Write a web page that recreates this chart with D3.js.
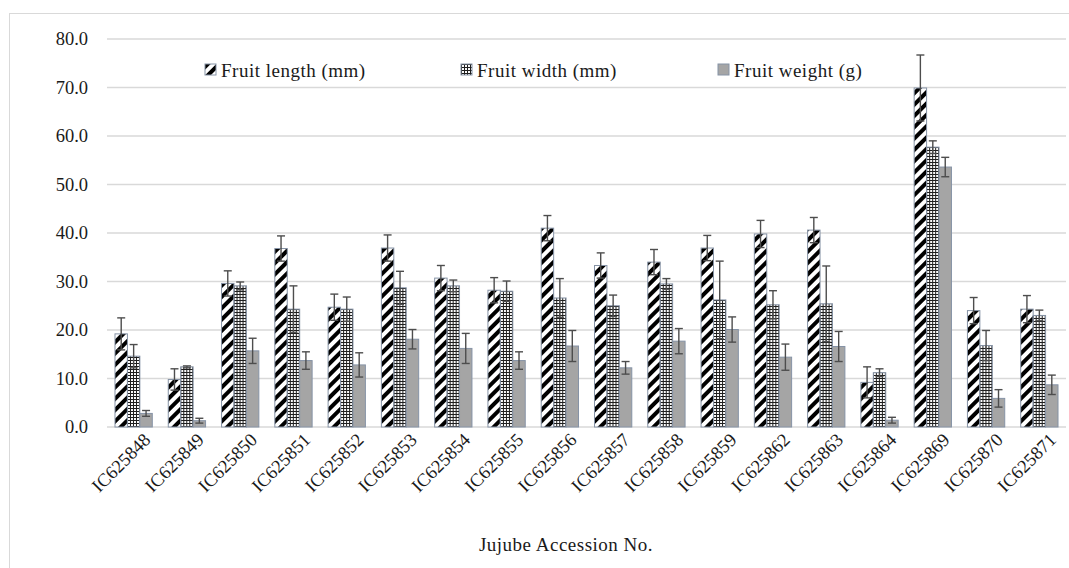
<!DOCTYPE html>
<html lang="en">

<body style="margin:0;background:#fff">
    <script type='text/javascript' src='https://d3js.org/d3.v7.min.js'></script>
    <style>
        text {
            font-family: "Liberation Serif", serif;
            fill: #1a1a1a;
        }
    </style>
    <script>
        // accessions
        var accessions = ["IC625848", "IC625849", "IC625850", "IC625851", "IC625852", "IC625853",
            "IC625854", "IC625855", "IC625856", "IC625857", "IC625858", "IC625859",
            "IC625862", "IC625863", "IC625864", "IC625869", "IC625870", "IC625871"];

        var seriesNames = ["Fruit length (mm)", "Fruit width (mm)", "Fruit weight (g)"];

        // means
        var fruitLength = [19.2, 9.8, 29.6, 36.8, 24.7, 36.9, 30.7, 28.2, 41.0, 33.3, 34.0, 36.9, 39.8, 40.6, 9.2, 69.9, 24.0, 24.3];
        var fruitWidth = [14.6, 12.4, 29.1, 24.3, 24.3, 28.7, 29.1, 28.0, 26.6, 25.0, 29.5, 26.2, 25.2, 25.4, 11.2, 57.7, 16.8, 23.0];
        var fruitWeight = [2.8, 1.3, 15.7, 13.7, 12.8, 18.1, 16.2, 13.7, 16.7, 12.2, 17.7, 20.1, 14.4, 16.6, 1.4, 53.6, 5.9, 8.7];

        // error (sd)
        var lengthErr = [3.3, 2.2, 2.6, 2.6, 2.7, 2.7, 2.6, 2.6, 2.6, 2.6, 2.6, 2.6, 2.8, 2.6, 3.2, 6.8, 2.7, 2.8];
        var widthErr = [2.4, 0.2, 0.8, 4.8, 2.5, 3.4, 1.2, 2.1, 4.0, 2.2, 1.1, 8.0, 2.9, 7.8, 0.8, 1.3, 3.1, 1.1];
        var weightErr = [0.6, 0.5, 2.6, 1.8, 2.5, 2.0, 3.1, 1.8, 3.2, 1.3, 2.6, 2.6, 2.7, 3.1, 0.6, 2.0, 1.8, 2.0];

        var yTicks = [0, 10, 20, 30, 40, 50, 60, 70, 80];

        var means = [fruitLength, fruitWidth, fruitWeight];
        var errs = [lengthErr, widthErr, weightErr];
        var fills = ["url(#pLength)", "url(#pWidth)", "#a5a5a5"];

        var rows = accessions.map(function (a, i) {
            return {
                name: a,
                vals: seriesNames.map(function (s, k) {
                    return { k: k, v: means[k][i], e: errs[k][i] };
                })
            };
        });

        const width = 1069;
        const height = 568;
        const plotLeft = 107, plotRight = 1066, plotTop = 39, plotBottom = 427;

        var svg = d3.select("body")
            .append("svg")
            .attr("width", width)
            .attr("height", height);

        var defs = svg.append("defs");
        var p1 = defs.append("pattern")
            .attr("id", "pLength")
            .attr("patternUnits", "userSpaceOnUse")
            .attr("width", 8).attr("height", 8)
            .attr("patternTransform", "rotate(45)");
        p1.append("rect").attr("width", 8).attr("height", 8).attr("fill", "#fff");
        p1.append("rect").attr("width", 4).attr("height", 8).attr("fill", "#000");

        // small dotted grid
        var p2 = defs.append("pattern")
            .attr("id", "pWidth")
            .attr("patternUnits", "userSpaceOnUse")
            .attr("width", 3).attr("height", 3);
        p2.append("rect").attr("width", 3).attr("height", 3).attr("fill", "#1e1e1e");
        p2.append("rect").attr("x", 1).attr("y", 1).attr("width", 2).attr("height", 2).attr("fill", "#fafafa");

        // chart border
        svg.append("rect")
            .attr("x", 9.5).attr("y", 13.5)
            .attr("width", 1070).attr("height", 570)
            .attr("fill", "none")
            .attr("stroke", "#d9d9d9");

        var y = d3.scaleLinear().domain([0, 80]).range([plotBottom, plotTop]);
        var x0 = d3.scaleBand().domain(accessions).range([plotLeft, plotRight])
            .paddingInner(0.3).paddingOuter(0.15);
        var x1 = d3.scaleBand().domain([0, 1, 2]).range([0, x0.bandwidth()]);

        // grid
        svg.append("g")
            .selectAll("line")
            .data(yTicks)
            .enter()
            .append("line")
            .attr("x1", plotLeft).attr("x2", plotRight)
            .attr("y1", function (d) { return y(d); })
            .attr("y2", function (d) { return y(d); })
            .attr("stroke", "#d9d9d9")
            .attr("stroke-width", 1.5);

        svg.append("g")
            .selectAll("text")
            .data(yTicks)
            .enter()
            .append("text")
            .attr("x", 88)
            .attr("y", function (d) { return y(d); })
            .attr("dy", ".35em")
            .style("text-anchor", "end")
            .style("font-size", "18.5px")
            .text(function (d) { return d3.format(".1f")(d); });

        var g = svg.selectAll("g.grp")
            .data(rows)
            .enter()
            .append("g")
            .attr("class", "grp")
            .attr("transform", function (d) {
                return "translate(" + x0(d.name) + ",0)";
            });

        g.selectAll("rect")
            .data(function (d) { return d.vals; })
            .enter()
            .append("rect")
            .attr("x", function (d) { return x1(d.k); })
            .attr("y", function (d) { return y(d.v); })
            .attr("width", x1.bandwidth())
            .attr("height", function (d) { return y(0) - y(d.v); })
            .attr("fill", function (d) { return fills[d.k]; })
            .attr("stroke", "#8693a6")
            .attr("stroke-width", 1);

        var eb = g.selectAll("g.err")
            .data(function (d) { return d.vals; })
            .enter()
            .append("g")
            .attr("class", "err")
            .attr("stroke", "#4d4d4d")
            .attr("stroke-width", 1.4);

        eb.append("line")
            .attr("x1", function (d) { return x1(d.k) + x1.bandwidth() / 2; })
            .attr("x2", function (d) { return x1(d.k) + x1.bandwidth() / 2; })
            .attr("y1", function (d) { return y(d.v + d.e); })
            .attr("y2", function (d) { return y(Math.max(0, d.v - d.e)); });
        eb.append("line")
            .attr("x1", function (d) { return x1(d.k) + x1.bandwidth() / 2 - 4; })
            .attr("x2", function (d) { return x1(d.k) + x1.bandwidth() / 2 + 4; })
            .attr("y1", function (d) { return y(d.v + d.e); })
            .attr("y2", function (d) { return y(d.v + d.e); });
        eb.append("line")
            .attr("x1", function (d) { return x1(d.k) + x1.bandwidth() / 2 - 4; })
            .attr("x2", function (d) { return x1(d.k) + x1.bandwidth() / 2 + 4; })
            .attr("y1", function (d) { return y(Math.max(0, d.v - d.e)); })
            .attr("y2", function (d) { return y(Math.max(0, d.v - d.e)); });

        // x labels
        svg.append("g")
            .selectAll("text")
            .data(accessions)
            .enter()
            .append("text")
            .attr("transform", function (d) {
                return "translate(" + (x0(d) + x0.bandwidth() / 2 + 18) + ",441) rotate(-45)";
            })
            .style("text-anchor", "end")
            .style("font-size", "18.5px")
            .text(function (d) { return d; });

        svg.append("text")
            .attr("x", 566)
            .attr("y", 551)
            .style("text-anchor", "middle")
            .style("font-size", "19px")
            .style("letter-spacing", "0.5px")
            .text("Jujube Accession No.");

        // legend
        var legX = [205, 461, 718];
        var leg = svg.selectAll("g.leg")
            .data(seriesNames)
            .enter()
            .append("g")
            .attr("class", "leg")
            .attr("transform", function (d, i) { return "translate(" + legX[i] + ",64)"; });
        leg.append("rect")
            .attr("width", 11).attr("height", 11)
            .attr("fill", function (d, i) { return fills[i]; })
            .attr("stroke", "#8693a6");
        leg.append("text")
            .attr("x", 16)
            .attr("y", 6)
            .attr("dy", ".35em")
            .style("font-size", "19px")
            .style("letter-spacing", "0.5px")
            .text(function (d) { return d; });
    </script>

</body>

</html>
